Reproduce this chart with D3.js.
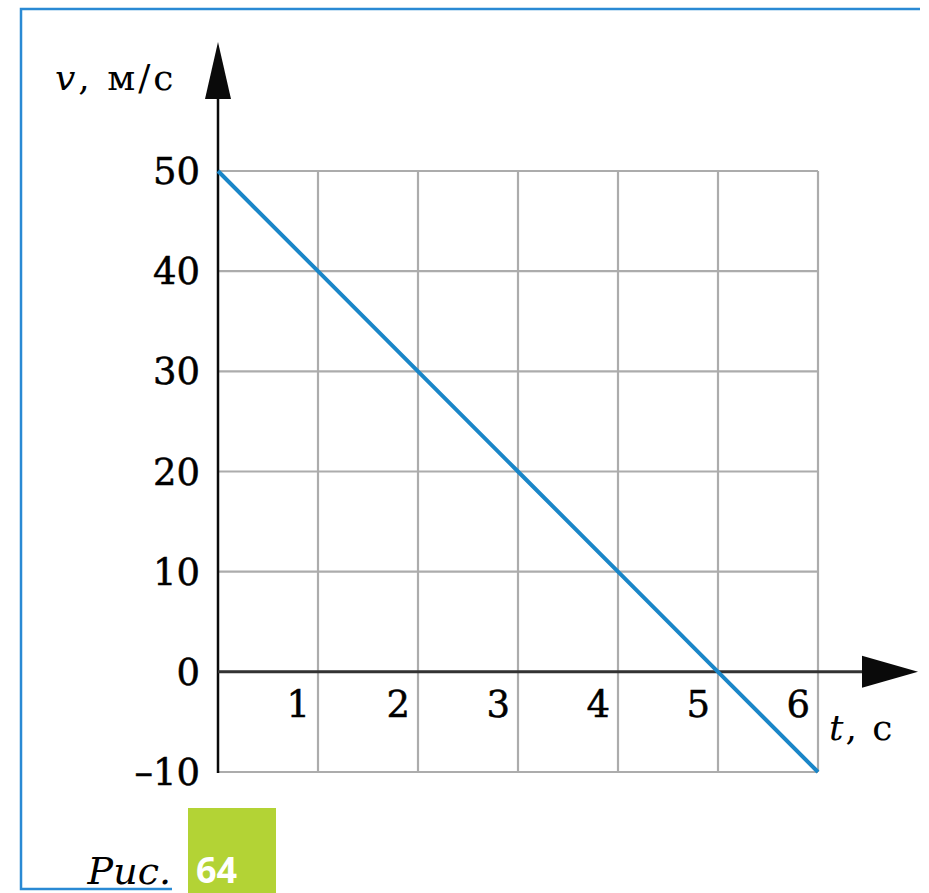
<!DOCTYPE html>
<html>
<head>
<meta charset="utf-8">
<script src="https://cdn.jsdelivr.net/npm/d3@7/dist/d3.min.js"></script>
<style>
  html, body { margin: 0; padding: 0; background: #fff; }
  svg { display: block; }
</style>
</head>
<body>
<svg id="chart" width="929" height="893"></svg>
<script>
// Velocity vs time data
const times = [0, 1, 2, 3, 4, 5, 6];
const speeds = [50, 40, 30, 20, 10, 0, -10];
const xTickLabels = [1, 2, 3, 4, 5, 6];
const yTickLabels = [-10, 0, 10, 20, 30, 40, 50];
const yAxisTitle = "м/с";
const xAxisTitle = "с";
const captionWord = "Рис.";
const captionNumber = "64";

const svg = d3.select("#chart");
const serif = "'DejaVu Serif', serif";

const x = d3.scaleLinear().domain([0, 6]).range([218, 818]);
const y = d3.scaleLinear().domain([-10, 50]).range([772, 171]);

// Page frame (top and left rule, short bottom rule)
svg.append("path")
  .attr("d", "M920,9 H21 V889 H172")
  .attr("fill", "none")
  .attr("stroke", "#2a8ad4")
  .attr("stroke-width", 2.5);

// Grid
const grid = svg.append("g").attr("stroke", "#acacac").attr("stroke-width", 2.2);
grid.selectAll("line.v").data(xTickLabels).join("line")
  .attr("x1", d => x(d)).attr("x2", d => x(d))
  .attr("y1", y(50)).attr("y2", y(-10));
grid.selectAll("line.h").data(yTickLabels).join("line")
  .attr("x1", x(0)).attr("x2", x(6))
  .attr("y1", d => y(d)).attr("y2", d => y(d));

// Axes
const axisColor = "#0a0a0a";
svg.append("line")
  .attr("x1", x(0)).attr("x2", x(0))
  .attr("y1", y(-10) + 1).attr("y2", 96)
  .attr("stroke", axisColor).attr("stroke-width", 2.5);
svg.append("path")
  .attr("d", `M${x(0)},42 L${x(0) - 13},99 L${x(0) + 13},99 Z`)
  .attr("fill", axisColor);

svg.append("line")
  .attr("x1", x(0)).attr("x2", 866)
  .attr("y1", y(0)).attr("y2", y(0))
  .attr("stroke", "#333").attr("stroke-width", 3);
svg.append("path")
  .attr("d", `M918,${y(0)} L862,${y(0) - 16} L862,${y(0) + 16} Z`)
  .attr("fill", axisColor);

// Velocity line
const line = d3.line().x((d, i) => x(times[i])).y(d => y(d));
svg.append("path")
  .datum(speeds)
  .attr("d", line)
  .attr("fill", "none")
  .attr("stroke", "#1a86c8")
  .attr("stroke-width", 4);

// Tick labels
const labelStyle = sel => sel
  .attr("font-family", serif)
  .attr("font-size", 37)
  .attr("fill", "#000")
  .attr("stroke", "#000")
  .attr("stroke-width", 0.5);

svg.append("g")
  .selectAll("text").data(yTickLabels).join("text")
  .attr("x", 200)
  .attr("y", d => y(d) + 13)
  .attr("text-anchor", "end")
  .call(labelStyle)
  .text(d => d < 0 ? "\u2013" + Math.abs(d) : d);

svg.append("g")
  .selectAll("text").data(xTickLabels).join("text")
  .attr("x", d => x(d) - 8)
  .attr("y", 717)
  .attr("text-anchor", "end")
  .call(labelStyle)
  .text(d => d);

// Axis titles
const yt = svg.append("text")
  .attr("x", 55).attr("y", 90)
  .attr("font-family", serif)
  .attr("font-size", 36)
  .attr("letter-spacing", 3)
  .attr("fill", "#000");
yt.append("tspan").attr("font-style", "italic").text("v");
yt.append("tspan").text(", " + yAxisTitle);

const xt = svg.append("text")
  .attr("x", 829).attr("y", 740)
  .attr("font-family", serif)
  .attr("font-size", 36)
  .attr("letter-spacing", 2)
  .attr("fill", "#000");
xt.append("tspan").attr("font-style", "italic").text("t");
xt.append("tspan").text(", " + xAxisTitle);

// Figure caption
svg.append("text")
  .attr("x", 171).attr("y", 884)
  .attr("text-anchor", "end")
  .attr("font-family", serif)
  .attr("font-style", "italic")
  .attr("font-size", 38)
  .attr("fill", "#000")
  .text(captionWord);

svg.append("rect")
  .attr("x", 188).attr("y", 808)
  .attr("width", 88).attr("height", 85)
  .attr("fill", "#b3d335");
svg.append("text")
  .attr("x", 196).attr("y", 883)
  .attr("font-family", "'Open Sans', sans-serif")
  .attr("font-weight", 700)
  .attr("font-size", 36)
  .attr("fill", "#fff")
  .text(captionNumber);
</script>
</body>
</html>
